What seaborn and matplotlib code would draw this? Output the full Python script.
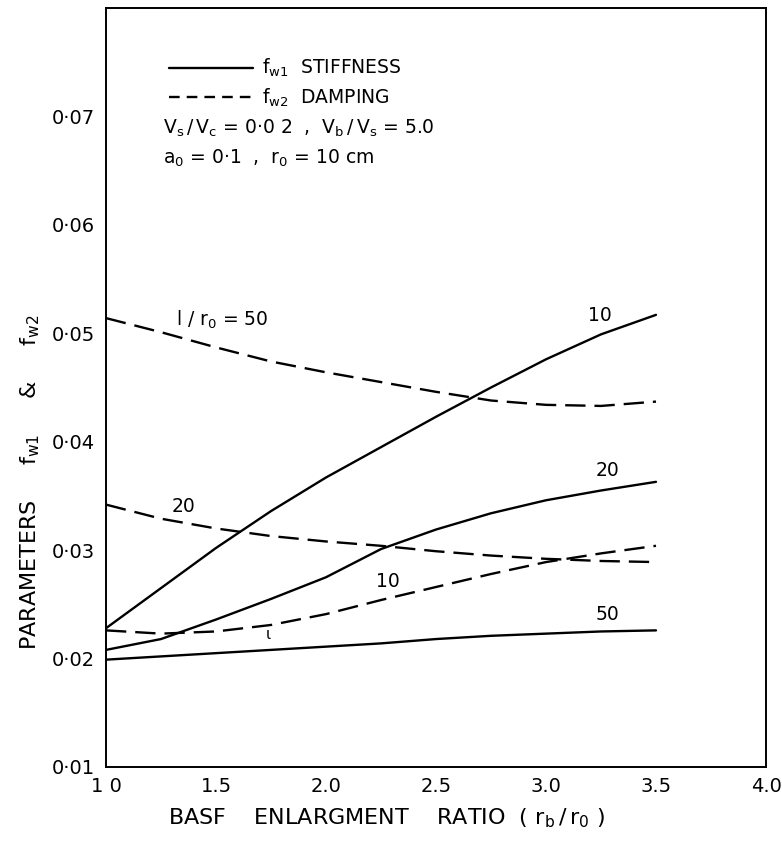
import matplotlib
matplotlib.use("Agg")
import matplotlib.pyplot as plt
import seaborn as sns
import pandas as pd

# ---- data ----
ratio = [1.0, 1.25, 1.5, 1.75, 2.0, 2.25, 2.5, 2.75, 3.0, 3.25, 3.5]

stiff_10 = [0.0228, 0.0265, 0.0302, 0.0336, 0.0367, 0.0395, 0.0423, 0.0450, 0.0476, 0.0499, 0.0517]
stiff_20 = [0.0208, 0.0218, 0.0236, 0.0255, 0.0275, 0.0301, 0.0319, 0.0334, 0.0346, 0.0355, 0.0363]
stiff_50 = [0.0199, 0.0202, 0.0205, 0.0208, 0.0211, 0.0214, 0.0218, 0.0221, 0.0223, 0.0225, 0.0226]

damp_10 = [0.0226, 0.0223, 0.0225, 0.0231, 0.0241, 0.0254, 0.0266, 0.0278, 0.0289, 0.0297, 0.0304]
damp_20 = [0.0342, 0.0329, 0.0320, 0.0313, 0.0308, 0.0304, 0.0299, 0.0295, 0.0292, 0.0290, 0.0289]
damp_50 = [0.0514, 0.0501, 0.0487, 0.0474, 0.0464, 0.0455, 0.0446, 0.0438, 0.0434, 0.0433, 0.0437]

x_ticks = [1.0, 1.5, 2.0, 2.5, 3.0, 3.5, 4.0]
x_tick_labels = ["1 0", "1.5", "2.0", "2.5", "3.0", "3.5", "4.0"]
y_ticks = [0.01, 0.02, 0.03, 0.04, 0.05, 0.06, 0.07]
y_tick_labels = ["0·01", "0·02", "0·03", "0·04", "0·05", "0·06", "0·07"]

series = [
    ("stiffness", "10", stiff_10),
    ("stiffness", "20", stiff_20),
    ("stiffness", "50", stiff_50),
    ("damping", "10", damp_10),
    ("damping", "20", damp_20),
    ("damping", "50", damp_50),
]
rows = []
for kind, lr, vals in series:
    for xv, yv in zip(ratio, vals):
        rows.append({"ratio": xv, "value": yv, "kind": kind, "lr": lr})
df = pd.DataFrame(rows)

sns.set_theme(style="white")
plt.rcParams["font.family"] = ["DejaVu Sans"]
plt.rcParams["mathtext.fontset"] = "dejavusans"
plt.rcParams["mathtext.default"] = "regular"
plt.rcParams["text.color"] = "black"
plt.rcParams["xtick.color"] = "black"
plt.rcParams["ytick.color"] = "black"

W, H = 782, 844
fig = plt.figure(figsize=(W / 100, H / 100), dpi=100)
fig.patch.set_facecolor("white")
ax = fig.add_axes([106 / W, 1 - 767 / H, (766 - 106) / W, (767 - 8) / H])
ax.set_facecolor("white")

dash = (8.6, 3.8)
for (kind, lr), sub in df.groupby(["kind", "lr"]):
    sns.lineplot(data=sub, x="ratio", y="value", ax=ax, legend=False,
                 estimator=None, sort=True, color="black", linewidth=1.7)
    if kind == "damping":
        ax.lines[-1].set_dashes(dash)

ax.set_xlim(1.0, 4.0)
ax.set_ylim(0.01, 0.08)
ax.set_xticks(x_ticks)
ax.set_xticklabels(x_tick_labels)
ax.set_yticks(y_ticks)
ax.set_yticklabels(y_tick_labels)
ax.tick_params(axis="both", direction="in", length=11, width=1.2, colors="black",
               labelsize=14, pad=8)
ax.tick_params(axis="x", pad=7)
ax.set_xlabel("")
ax.set_ylabel("")
for sp in ax.spines.values():
    sp.set_visible(True)
    sp.set_color("black")
    sp.set_linewidth(1.4)

# legend / parameter block
ax.plot([1.285, 1.67], [0.0745, 0.0745], color="black", lw=1.7)
ax.plot([1.285, 1.67], [0.0718, 0.0718], color="black", lw=1.7, dashes=(4.5, 3.0))
ax.text(1.71, 0.0745, r"$f_{w1}$  STIFFNESS", fontsize=13.5, va="center", ha="left")
ax.text(1.71, 0.0717, r"$f_{w2}$  DAMPING", fontsize=13.5, va="center", ha="left")
ax.text(1.26, 0.0689, r"$V_s\,/\,V_c$ = 0·0 2  ,  $V_b\,/\,V_s$ = 5.0", fontsize=13.5,
        va="center", ha="left")
ax.text(1.26, 0.0661, r"$a_0$ = 0·1  ,  $r_0$ = 10 cm", fontsize=13.5,
        va="center", ha="left")

# curve labels
ax.text(1.32, 0.0512, r"l / $r_0$ = 50", fontsize=13.5, va="center", ha="left")
ax.text(1.30, 0.0340, "20", fontsize=13.5, va="center", ha="left")
ax.text(3.245, 0.0516, "10", fontsize=13.5, va="center", ha="center")
ax.text(3.28, 0.0373, "20", fontsize=13.5, va="center", ha="center")
ax.text(2.28, 0.0271, "10", fontsize=13.5, va="center", ha="center")
ax.text(3.28, 0.0241, "50", fontsize=13.5, va="center", ha="center")
ax.text(1.74, 0.0222, "ι", fontsize=11, va="center", ha="center")

# axis titles
fig.text(386 / W, 1 - 818 / H, r"BASF    ENLARGMENT    RATIO  ( $r_b\,/\,r_0$ )",
         fontsize=16, ha="center", va="center")
fig.text(30 / W, 1 - 482 / H, r"PARAMETERS     $f_{w1}$     &     $f_{w2}$",
         fontsize=16, ha="center", va="center", rotation=90)

fig.savefig("out.png", dpi=100, facecolor="white")
